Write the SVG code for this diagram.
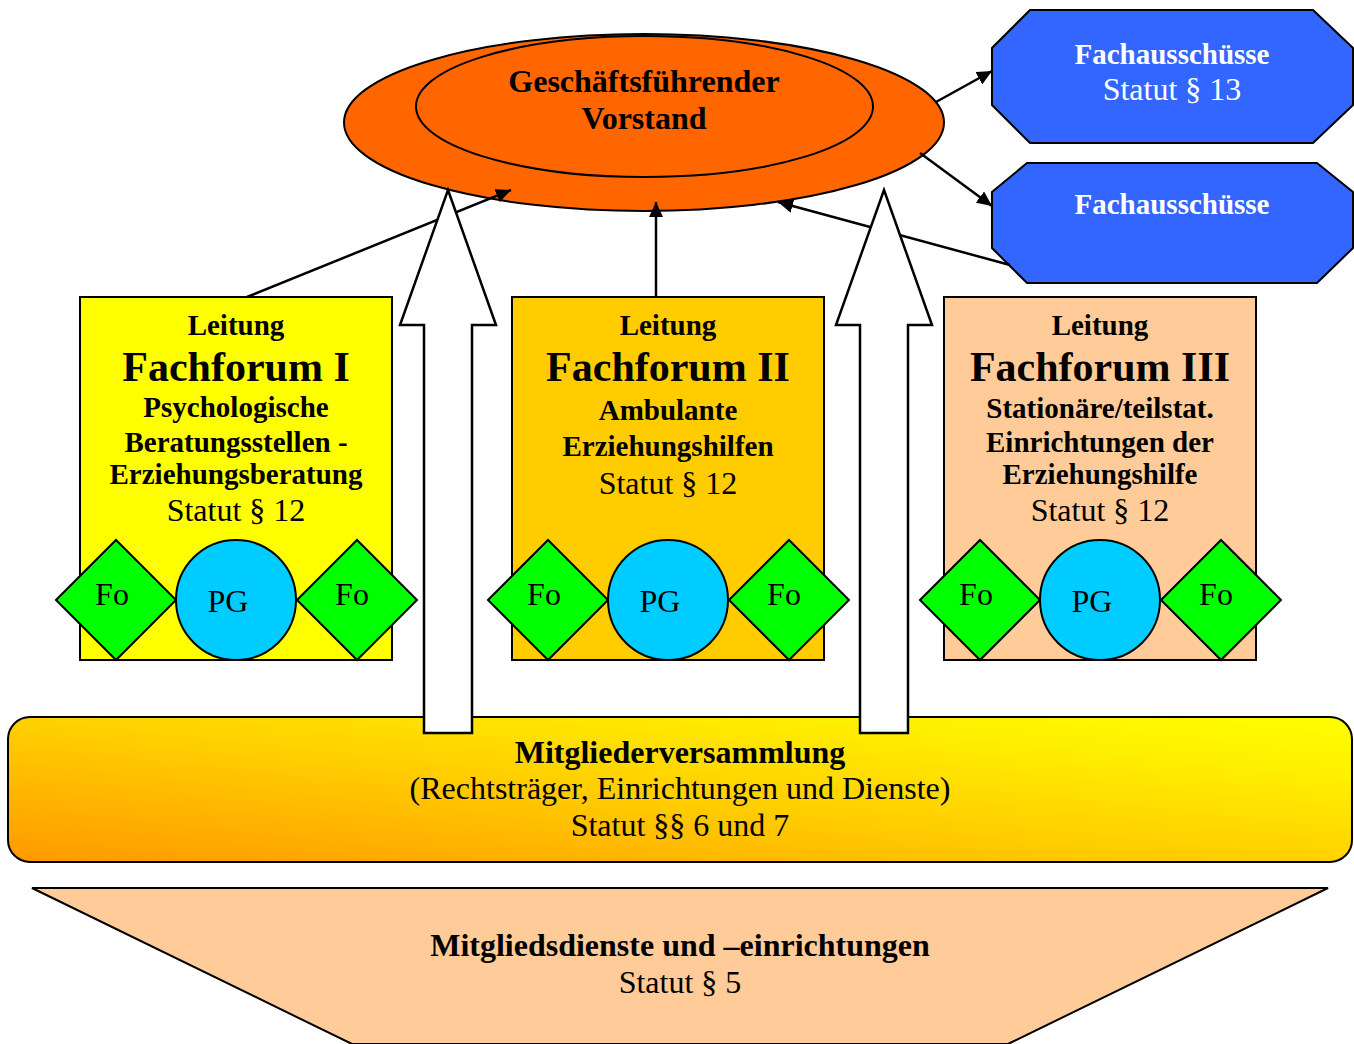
<svg xmlns="http://www.w3.org/2000/svg" width="1354" height="1044" viewBox="0 0 1354 1044">
<style>
text{font-family:"Liberation Serif","Times New Roman",serif;text-anchor:middle;fill:#000}
.b{font-weight:bold}
.s29{font-size:29px}
.s32{font-size:32px}
.s42{font-size:42px}
.w{fill:#fff}
.ln{stroke:#000;stroke-width:2.5;fill:none}
.sh{stroke:#000;stroke-width:2}
.fo{fill:#00FF00;stroke:#000;stroke-width:2}
.pg{fill:#00CCFF;stroke:#000;stroke-width:2}
.blk{fill:#fff;stroke:#000;stroke-width:2.5;stroke-linejoin:miter}
</style>
<defs>
<marker id="ah" markerUnits="userSpaceOnUse" markerWidth="16" markerHeight="14" refX="15" refY="7" orient="auto">
<path d="M0,0 L15,7 L0,14 z" fill="#000"/>
</marker>
<linearGradient id="mvg" x1="0" y1="1" x2="1" y2="0">
<stop offset="0" stop-color="#FF9900"/>
<stop offset="0.45" stop-color="#FFCC00"/>
<stop offset="0.8" stop-color="#FFF000"/>
<stop offset="1" stop-color="#FFFF00"/>
</linearGradient>
</defs>
<rect width="1354" height="1044" fill="#fff"/>

<g id="vorstand">
<ellipse cx="644" cy="122.5" rx="300" ry="88.5" fill="#FF6600" class="sh"/>
<ellipse cx="644.5" cy="106.5" rx="228.5" ry="70.5" fill="#FF6600" class="sh"/>
<text x="644" y="92" class="b s32">Geschäftsführender</text>
<text x="644" y="129" class="b s32">Vorstand</text>
</g>

<g id="fachausschuesse1">
<polygon points="1030,10 1313,10 1353,48 1353,105 1313,143 1030,143 992,105 992,48" fill="#3366FF" class="sh"/>
<text x="1172" y="64" class="b s29 w">Fachausschüsse</text>
<text x="1172" y="100" class="s32 w">Statut § 13</text>
</g>

<g id="fachausschuesse2">
<polygon points="1027,163 1317,163 1353,192 1353,248 1317,283 1027,283 992,248 992,192" fill="#3366FF" class="sh"/>
<text x="1172" y="214" class="b s29 w">Fachausschüsse</text>
</g>

<g id="fachforum1">
<rect x="80" y="297" width="312" height="363" fill="#FFFF00" class="sh"/>
<text x="236" y="335" class="b s29">Leitung</text>
<text x="236" y="381" class="b s42">Fachforum I</text>
<text x="236" y="417" class="b s29">Psychologische</text>
<text x="236" y="452" class="b s29">Beratungsstellen -</text>
<text x="236" y="484" class="b s29">Erziehungsberatung</text>
<text x="236" y="521" class="s32">Statut § 12</text>
<polygon points="56,600 116,540 176,600 116,660" class="fo"/>
<circle cx="236" cy="600" r="60" class="pg"/>
<polygon points="297,600 357,540 417,600 357,660" class="fo"/>
<text x="112" y="605" class="s32">Fo</text>
<text x="228" y="612" class="s32">PG</text>
<text x="352" y="605" class="s32">Fo</text>
</g>

<g id="fachforum2">
<rect x="512" y="297" width="312" height="363" fill="#FFCC00" class="sh"/>
<text x="668" y="335" class="b s29">Leitung</text>
<text x="668" y="381" class="b s42">Fachforum II</text>
<text x="668" y="420" class="b s29">Ambulante</text>
<text x="668" y="456" class="b s29">Erziehungshilfen</text>
<text x="668" y="494" class="s32">Statut § 12</text>
<polygon points="488,600 548,540 608,600 548,660" class="fo"/>
<circle cx="668" cy="600" r="60" class="pg"/>
<polygon points="729,600 789,540 849,600 789,660" class="fo"/>
<text x="544" y="605" class="s32">Fo</text>
<text x="660" y="612" class="s32">PG</text>
<text x="784" y="605" class="s32">Fo</text>
</g>

<g id="fachforum3">
<rect x="944" y="297" width="312" height="363" fill="#FFCC99" class="sh"/>
<text x="1100" y="335" class="b s29">Leitung</text>
<text x="1100" y="381" class="b s42">Fachforum III</text>
<text x="1100" y="418" class="b s29">Stationäre/teilstat.</text>
<text x="1100" y="452" class="b s29">Einrichtungen der</text>
<text x="1100" y="484" class="b s29">Erziehungshilfe</text>
<text x="1100" y="521" class="s32">Statut § 12</text>
<polygon points="920,600 980,540 1040,600 980,660" class="fo"/>
<circle cx="1100" cy="600" r="60" class="pg"/>
<polygon points="1161,600 1221,540 1281,600 1221,660" class="fo"/>
<text x="976" y="605" class="s32">Fo</text>
<text x="1092" y="612" class="s32">PG</text>
<text x="1216" y="605" class="s32">Fo</text>
</g>

<g id="mitgliederversammlung">
<rect x="8" y="717" width="1344" height="145" rx="22" ry="22" fill="url(#mvg)" class="sh"/>
<text x="680" y="763" class="b s32">Mitgliederversammlung</text>
<text x="680" y="799" class="s32">(Rechtsträger, Einrichtungen und Dienste)</text>
<text x="680" y="836" class="s32">Statut §§ 6 und 7</text>
</g>

<g id="mitgliedsdienste">
<polygon points="32,888 1328,888 1008,1044 352,1044" fill="#FFCC99" class="sh"/>
<text x="680" y="956" class="b s32">Mitgliedsdienste und –einrichtungen</text>
<text x="680" y="993" class="s32">Statut § 5</text>
</g>

<g id="connectors">
<line x1="936" y1="102" x2="992" y2="71" class="ln" marker-end="url(#ah)"/>
<line x1="920" y1="153" x2="992" y2="206" class="ln" marker-end="url(#ah)"/>
<line x1="247" y1="297" x2="511" y2="190" class="ln" marker-end="url(#ah)"/>
<line x1="656" y1="297" x2="656" y2="202" class="ln" marker-end="url(#ah)"/>
<line x1="1010" y1="265" x2="778" y2="202" class="ln" marker-end="url(#ah)"/>
</g>

<g id="block-arrows">
<polygon points="448,190 496,325 472,325 472,733 424,733 424,325 400,325" class="blk"/>
<polygon points="884,190 932,325 908,325 908,733 860,733 860,325 836,325" class="blk"/>
</g>
</svg>
